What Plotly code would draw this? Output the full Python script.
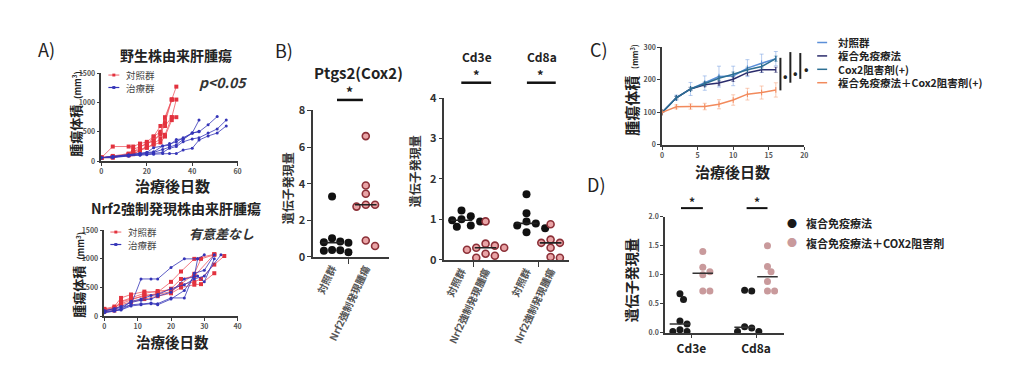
import numpy as np
import plotly.graph_objects as go

W, H = 1024, 375
FONT = "Noto Sans CJK JP, Noto Sans, sans-serif"

# ---------------- DATA ----------------
# Panel A (top): wild-type derived tumors
a1_ctrl_days = [0, 5, 12, 14, 17, 20, 23, 26, 28, 31, 33]
a1_ctrl_vols = [
    [60, 250, 250, 250, 300, 330, 420, 600, 600, 750, 750],
    [60, 80, 110, 150, 240, 300, 350, 480, 720, 1050, 1270],
    [60, 70, 100, 120, 180, 260, 420, 500, 750, 1050, None],
    [60, 60, 120, 130, 180, 230, 300, 380, 450, 750, 1050],
    [60, 90, 130, 200, 250, 300, 350, 450, 650, 1050, None],
    [60, 70, 110, 160, 200, 230, 280, 320, 420, 700, None],
]
a1_trt_days = [0, 5, 12, 17, 20, 23, 27, 30, 33, 36, 40, 43, 47, 51, 55]
a1_trt_vols = [
    [60, 80, 110, 130, 150, 160, 260, 300, 330, 400, 480, 700, None, None, None],
    [60, 70, 100, 120, 140, 150, 200, 240, 280, 370, 480, 500, 620, 760, None],
    [60, 60, 90, 110, 120, 130, 150, 220, 250, 330, 380, 400, 480, 550, 700],
    [60, 70, 90, 100, 110, 120, 130, 130, 130, 190, 220, 360, 430, 480, 600],
    [60, 80, 100, 130, 150, 230, 260, 270, 370, 380, 480, 510, None, None, None],
]
# Panel A (bottom): Nrf2 overexpression derived tumors
a2_ctrl_days = [0, 3, 5, 8, 12, 16, 20, 23, 27, 29, 33, 36]
a2_ctrl_vols = [
    [130, 170, 320, 380, 430, 420, 600, 780, 1000, None, 1080, None],
    [100, 130, 250, 300, 350, 400, 480, 650, 700, None, 1080, None],
    [120, 150, 220, 290, 370, 380, 430, 550, 600, 650, 900, 1050],
    [80, 100, 200, 250, 300, 350, 400, 500, 550, 560, 750, None],
    [110, 140, 260, 320, 400, 440, 460, 560, 740, 1000, 1070, None],
]
a2_trt_days = [0, 3, 5, 8, 11, 14, 16, 20, 24, 27, 28, 30, 33, 35]
a2_trt_vols = [
    [100, 130, 150, 200, 650, 650, 650, 850, 1000, None, 1000, 1070, None, None],
    [80, 110, 120, 200, 220, 230, 220, 320, 320, 750, None, 800, 1070, None],
    [70, 100, 110, 180, 200, 220, 200, 300, 450, 700, 1000, None, None, None],
    [90, 130, 170, 240, 280, 300, 350, 420, 650, None, 700, 600, 1000, None],
    [60, 90, 130, 260, 300, 360, 380, 480, 550, 650, None, 700, None, 1070],
]

# Panel B: gene expression
b_groups = ["対照群", "Nrf2強制発現腫瘍"]
ptgs2_ctrl = [3.3, 1.02, 0.85, 0.8, 0.78, 0.38, 0.36, 0.34, 0.25]
ptgs2_nrf2 = [6.6, 3.9, 3.45, 2.85, 2.75, 2.85, 0.9, 0.6]
cd3e_ctrl = [1.22, 1.08, 1.0, 0.98, 0.95, 0.85, 0.82]
cd3e_nrf2 = [0.95, 0.4, 0.35, 0.3, 0.3, 0.25, 0.15, 0.1, 0.05]
cd8a_ctrl = [1.62, 1.15, 0.95, 0.9, 0.85, 0.78, 0.68]
cd8a_nrf2 = [0.88, 0.5, 0.42, 0.42, 0.3, 0.07, 0.05]

# Panel C: tumor growth curves
c_days = [0, 2, 4, 6, 8, 10, 12, 14, 16]
c_names = ["対照群", "複合免疫療法", "Cox2阻害剤(+)", "複合免疫療法＋Cox2阻害剤(+)"]
c_ctrl = [100, 145, 172, 190, 210, 212, 236, 251, 265]
c_ctrl_err = [0, 8, 20, 22, 32, 30, 26, 28, 22]
c_immuno = [100, 145, 172, 185, 190, 202, 222, 231, 231]
c_immuno_err = [0, 4, 5, 6, 6, 7, 8, 8, 8]
c_cox2 = [100, 145, 172, 188, 205, 217, 231, 241, 265]
c_cox2_err = [0, 4, 5, 6, 6, 7, 8, 8, 8]
c_combo = [100, 117, 118, 118, 125, 138, 156, 161, 169]
c_combo_err = [0, 6, 8, 10, 14, 16, 18, 20, 22]

# Panel D: gene expression with/without COX2 inhibitor
d_genes = ["Cd3e", "Cd8a"]
d_names = ["複合免疫療法", "複合免疫療法＋COX2阻害剤"]
d_cd3e_immuno = [0.67, 0.57, 0.2, 0.15, 0.05, 0.02, 0.02]
d_cd3e_combo = [1.4, 1.13, 1.05, 1.0, 0.72, 0.72]
d_cd8a_immuno = [0.72, 0.73, 0.1, 0.08, 0.02, 0.02]
d_cd8a_combo = [1.5, 1.14, 1.05, 0.88, 0.72, 0.72]


# ---------------- helpers ----------------
def X(px):
    return px / W


def Y(py):
    return 1 - py / H


def swarm(vals, center, px_x, px_y, d=8.0):
    """Simple beeswarm: spread overlapping points horizontally."""
    placed = []
    order = sorted(range(len(vals)), key=lambda i: -vals[i])
    res = [0.0] * len(vals)
    for i in order:
        yp = vals[i] * px_y
        xo = 0.0
        for k in [0, 1, -1, 2, -2, 3, -3, 4, -4]:
            xo = k * d * 0.55 if k else 0.0
            if all((xo - px) ** 2 + (yp - py) ** 2 >= (d * 0.95) ** 2 for px, py in placed):
                break
        placed.append((xo, yp))
        res[i] = center + xo / px_x
    return res


fig = go.Figure()

RED_L = "rgba(238,80,90,0.75)"
RED_M = "#e2323e"
BLUE = "#3535b8"

# Panel A traces
for days, vols_list, xa, ya in [(a1_ctrl_days, a1_ctrl_vols, "x", "y"), (a2_ctrl_days, a2_ctrl_vols, "x2", "y2")]:
    for v in vols_list:
        fig.add_trace(go.Scatter(x=days, y=v, mode="lines+markers", connectgaps=True,
                                 line=dict(color=RED_L, width=1),
                                 marker=dict(color=RED_M, size=4, symbol="square"),
                                 xaxis=xa, yaxis=ya, showlegend=False, cliponaxis=False))
for days, vols_list, xa, ya in [(a1_trt_days, a1_trt_vols, "x", "y"), (a2_trt_days, a2_trt_vols, "x2", "y2")]:
    for v in vols_list:
        fig.add_trace(go.Scatter(x=days, y=v, mode="lines+markers", connectgaps=True,
                                 line=dict(color=BLUE, width=0.8),
                                 marker=dict(color=BLUE, size=3, symbol="circle"),
                                 xaxis=xa, yaxis=ya, showlegend=False, cliponaxis=False))

# Panel B scatter
BLK = "#111111"
PINK = "#e9a4a6"
PINK_E = "#8c3038"


def col_scatter(vals, center, xa, ya, px_x, px_y, dark, size=8, med_w=0.32, d=8.5):
    xs = swarm(vals, center, px_x, px_y, d=d)
    if dark:
        mk = dict(color=BLK, size=size, line=dict(width=0))
    else:
        mk = dict(color=PINK, size=size - 1, line=dict(color=PINK_E, width=1.6))
    fig.add_trace(go.Scatter(x=xs, y=vals, mode="markers", marker=mk, xaxis=xa, yaxis=ya,
                             showlegend=False, cliponaxis=False))
    m = float(np.median(vals))
    fig.add_trace(go.Scatter(x=[center - med_w, center + med_w], y=[m, m], mode="lines",
                             line=dict(color="#222", width=1.6), xaxis=xa, yaxis=ya,
                             showlegend=False, cliponaxis=False))


# B left: 34 px per unit x, 19.1 px per unit y
col_scatter(ptgs2_ctrl, 1, "x3", "y3", 34, 19.1, True, d=7.5)
col_scatter(ptgs2_nrf2, 2, "x3", "y3", 34, 19.1, False)
# B right: 24.2 px/unit x, 42.25 px/unit y
col_scatter(cd3e_ctrl, 1, "x4", "y4", 24.2, 42.25, True, med_w=0.45)
col_scatter(cd3e_nrf2, 2, "x4", "y4", 24.2, 42.25, False, med_w=0.45)
col_scatter(cd8a_ctrl, 3.7, "x4", "y4", 24.2, 42.25, True, med_w=0.45)
col_scatter(cd8a_nrf2, 4.7, "x4", "y4", 24.2, 42.25, False, med_w=0.45)

# Panel C
c_cols = ["#5b8fd8", "#2b2c6c", "#2d6f93", "#f28a5c"]
c_errc = ["rgba(120,160,225,0.55)", "rgba(60,60,120,0.4)", "rgba(60,120,150,0.4)", "rgba(245,160,120,0.55)"]
for vals, err, col, ec in zip([c_ctrl, c_immuno, c_cox2, c_combo],
                              [c_ctrl_err, c_immuno_err, c_cox2_err, c_combo_err], c_cols, c_errc):
    fig.add_trace(go.Scatter(x=c_days, y=vals, mode="lines+markers",
                             line=dict(color=col, width=1.5),
                             marker=dict(color=col, size=4, symbol="line-ns-open", line=dict(color=col, width=1)),
                             error_y=dict(type="data", array=err, color=ec, thickness=1, width=2),
                             xaxis="x5", yaxis="y5", showlegend=False, cliponaxis=False))

# Panel D: 23 px/unit x, 60.5 px/unit y
D_PINK = "#c99a9c"


def d_scatter(vals, center, color):
    xs = swarm(vals, center, 23, 60.5, d=6.5)
    fig.add_trace(go.Scatter(x=xs, y=vals, mode="markers", marker=dict(color=color, size=7),
                             xaxis="x6", yaxis="y6", showlegend=False, cliponaxis=False))
    m = float(np.median(vals))
    fig.add_trace(go.Scatter(x=[center - 0.45, center + 0.45], y=[m, m], mode="lines",
                             line=dict(color="#333", width=1.5), xaxis="x6", yaxis="y6",
                             showlegend=False, cliponaxis=False))


d_scatter(d_cd3e_immuno, 1, "#1a1a1a")
d_scatter(d_cd3e_combo, 2, D_PINK)
d_scatter(d_cd8a_immuno, 3.83, "#1a1a1a")
d_scatter(d_cd8a_combo, 4.83, D_PINK)

# ---------------- axes ----------------
AX = dict(showline=True, linecolor="#3a3a3a", linewidth=1.5, ticks="outside", ticklen=3,
          tickwidth=1.2, tickcolor="#3a3a3a", showgrid=False, zeroline=False,
          tickfont=dict(size=7, color="#555", family=FONT, weight="bold"))


def ax(**kw):
    d = dict(AX)
    d.update(kw)
    return d


layout = dict(
    width=W, height=H, margin=dict(l=0, r=0, t=0, b=0),
    paper_bgcolor="white", plot_bgcolor="white", font=dict(family=FONT),
    xaxis=ax(domain=[X(100), X(237)], range=[0, 60], tickvals=[0, 20, 40, 60], anchor="y"),
    yaxis=ax(domain=[Y(159), Y(67)], range=[0, 1500], tickvals=[0, 500, 1000, 1500], anchor="x"),
    xaxis2=ax(domain=[X(103), X(237)], range=[0, 40], tickvals=[0, 10, 20, 30, 40], anchor="y2"),
    yaxis2=ax(domain=[Y(321), Y(231)], range=[0, 1500], tickvals=[0, 500, 1000, 1500], anchor="x2"),
    xaxis3=ax(domain=[X(313), X(389)], range=[0.44, 2.68], tickvals=[1, 2], ticktext=b_groups,
              ticklen=0, tickangle=-65, anchor="y3",
              tickfont=dict(size=10, color="#555", family=FONT, weight="bold"),
              minor=dict(tickvals=[1.5], ticklen=5, ticks="outside", tickcolor="#3a3a3a", tickwidth=1.2)),
    yaxis3=ax(domain=[Y(259), Y(106)], range=[0, 8], tickvals=[0, 2, 4, 6, 8], anchor="x3", ticklen=4,
              tickfont=dict(size=11, color="#333", family=FONT, weight="bold")),
    xaxis4=ax(domain=[X(445), X(570)], range=[0.29, 5.45], tickvals=[1, 2, 3.7, 4.7],
              ticktext=b_groups + b_groups, ticklen=0, tickangle=-65, anchor="y4",
              tickfont=dict(size=10, color="#555", family=FONT, weight="bold"),
              minor=dict(tickvals=[1.5, 4.2], ticklen=5, ticks="outside", tickcolor="#3a3a3a", tickwidth=1.2)),
    yaxis4=ax(domain=[Y(262), Y(93)], range=[0, 4], tickvals=[0, 1, 2, 3, 4], anchor="x4", ticklen=4,
              tickfont=dict(size=11, color="#333", family=FONT, weight="bold")),
    xaxis5=ax(domain=[X(664), X(807)], range=[0, 20], tickvals=[0, 5, 10, 15, 20], anchor="y5"),
    yaxis5=ax(domain=[Y(142), Y(40)], range=[0, 300], tickvals=[0, 100, 200, 300], anchor="x5"),
    xaxis6=ax(domain=[X(667), X(787)], range=[0.35, 5.57], tickvals=[1.5, 4.33], ticktext=d_genes,
              anchor="y6", ticklen=4,
              tickfont=dict(size=12, color="#222", family=FONT, weight="bold")),
    yaxis6=ax(domain=[Y(338), Y(217)], range=[0, 2], tickvals=[0, 0.5, 1.0, 1.5, 2.0],
              tickformat=".1f", anchor="x6"),
)
fig.update_layout(**layout)

# ---------------- annotations / decorations ----------------
ann = []
shapes = []


def text(px, py, s, size=12, color="#222", bold=True, angle=0, xanchor="center", italic=False):
    ann.append(dict(x=X(px), y=Y(py), xref="paper", yref="paper", text=s, showarrow=False,
                    textangle=angle, xanchor=xanchor, yanchor="middle", borderpad=0,
                    font=dict(size=size, color=color, family=FONT,
                              weight="bold" if bold else "normal",
                              style="italic" if italic else "normal")))


def hline(x0, x1, y, color="#111", w=2.5):
    shapes.append(dict(type="line", xref="paper", yref="paper", x0=X(x0), x1=X(x1), y0=Y(y), y1=Y(y),
                       line=dict(color=color, width=w)))


def vline(x, y0, y1, color="#222", w=2):
    shapes.append(dict(type="line", xref="paper", yref="paper", x0=X(x), x1=X(x), y0=Y(y0), y1=Y(y1),
                       line=dict(color=color, width=w)))


# panel labels
for lab, px, py in [("A)", 45, 42), ("B)", 284, 43), ("C)", 601, 42), ("D)", 598, 183)]:
    text(px, py, lab, size=18, color="#222", bold=False)

# Panel A
text(175, 48, "野生株由来肝腫瘍", size=14)
text(175, 208, "Nrf2強制発現株由来肝腫瘍", size=14)
text(172, 184, "治療後日数", size=15)
text(172, 347, "治療後日数", size=14.5)
ytitle_a = "腫瘍体積  <span style='font-size:9px'>(mm<sup>3</sup>)</span>"
text(74, 110, ytitle_a, size=13, angle=-90)
text(77, 278, ytitle_a, size=13, angle=-90)
text(222, 76, "p<0.05", size=14, italic=True, color="#333")
text(221, 235, "有意差なし", size=13, italic=True, color="#333")
for py, col, lab, mc in [(69, RED_L, "対照群", RED_M), (82, BLUE, "治療群", BLUE),
                         (233, RED_L, "対照群", RED_M), (246, BLUE, "治療群", BLUE)]:
    x0 = 107 if py < 150 else 109
    hline(x0, x0 + 11, py, color=col, w=1.2)
    shapes.append(dict(type="rect", xref="paper", yref="paper",
                       x0=X(x0 + 4), x1=X(x0 + 7), y0=Y(py + 1.5), y1=Y(py - 1.5),
                       fillcolor=mc, line=dict(width=0)))
    text(x0 + 17, py, lab, size=9.5, color="#444", bold=False, xanchor="left")

# Panel B
text(313, 66, "Ptgs2(Cox2)", size=15, xanchor="left")
text(350, 87, "*", size=14)
hline(337, 363, 95)
text(287, 187, "遺伝子発現量", size=12, angle=-90, color="#333")
text(478, 50, "Cd3e", size=12)
text(543, 50, "Cd8a", size=12)
text(477, 68, "*", size=13)
text(542, 68, "*", size=13)
hline(462, 492, 77)
hline(528, 557, 77)
text(415, 170, "遺伝子発現量", size=12, angle=-90, color="#333")

# Panel C
text(633, 84, "腫瘍体積  <span style='font-size:8px'>(mm<sup>3</sup>)</span>", size=15, angle=-90)
text(735, 170, "治療後日数", size=15)
for i, (nm, col) in enumerate(zip(c_names, c_cols)):
    py = 35 + 14 * i
    hline(820, 830, py, color=col, w=1.5)
    text(840, py, nm, size=10.5, xanchor="left", color="#222")
vline(783, 51, 85)
vline(793, 45, 77)
vline(803, 46, 73)
text(788, 69, "•", size=12)
text(798, 66, "•", size=12)
text(809, 62, "•", size=12)

# Panel D
text(633, 283, "遺伝子発現量", size=14, angle=-90)
text(694, 201, "*", size=12)
text(759, 201, "*", size=12)
hline(683, 705, 208, w=2)
hline(749, 770, 208, w=2)
text(795, 224, "●", size=10, color="#1a1a1a", bold=False)
text(795, 244, "●", size=10, color=D_PINK, bold=False)
text(808, 224, d_names[0], size=11, xanchor="left")
text(808, 244, d_names[1], size=11, xanchor="left")

fig.update_layout(annotations=ann, shapes=shapes)
fig.write_html("out.html", config={"displayModeBar": False},
               post_script="document.body.style.margin='0';document.body.style.padding='0';")
